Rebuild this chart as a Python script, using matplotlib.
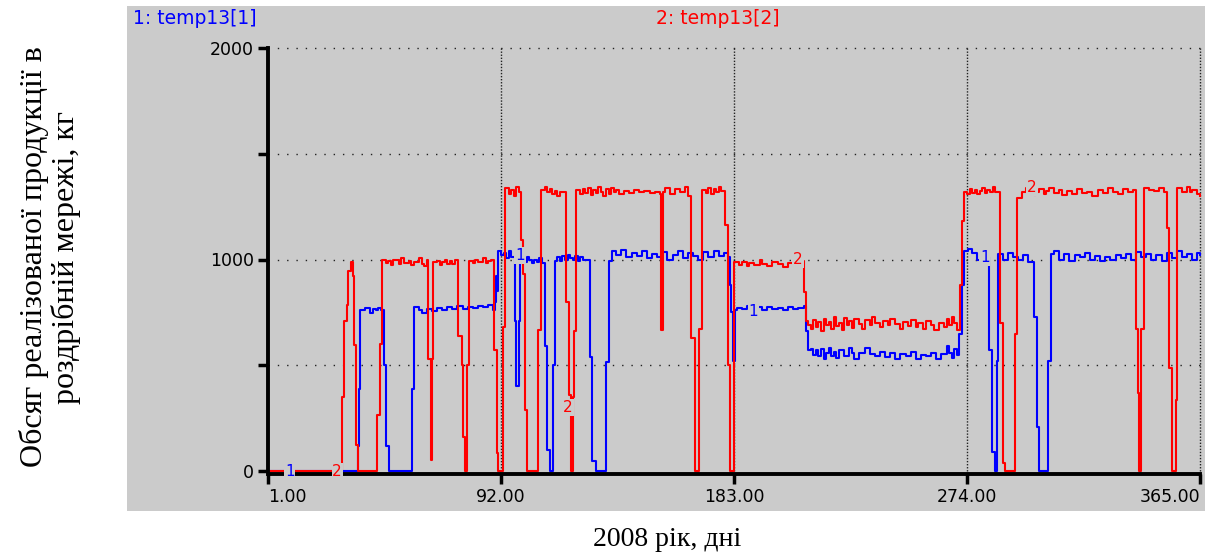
import matplotlib.pyplot as plt
from matplotlib.patches import Rectangle

# series 1 (blue): day, value breakpoints
days1 = [1, 36.0, 36.4, 37.0, 39, 41, 42, 43, 44, 45, 46.4, 47.2, 48.2, 57.1, 58.2, 60, 61, 63, 65, 67,
         69, 71, 73, 75, 77, 79, 81, 83, 85, 87, 89, 89.5, 90, 90.5, 91, 92, 93, 94, 95, 96,
         97.3, 98.0, 98.9, 99.6, 100.5, 101, 102, 103, 104, 105, 106, 107, 108, 109, 110, 111, 112.3, 113.2, 114, 115,
         116, 117, 118, 119, 120, 121, 122, 123, 124, 126.6, 127.6, 129, 133, 134, 135.5, 137, 139, 141, 143, 145,
         147, 149, 151, 153, 155, 157, 159, 161, 163, 165, 167, 169, 171, 173, 175, 177, 179, 180.6, 181.3, 182,
         182.7, 183.2, 184, 186, 188, 190, 192, 194, 196, 198, 200, 202, 204, 206, 208, 210.2, 211, 211.9, 213, 214,
         215, 216, 217, 218, 219, 220, 221, 222, 223, 224, 226, 228, 229, 230, 232, 234, 236, 238, 240, 242,
         244, 246, 248, 250, 252, 254, 256, 258, 260, 262, 264, 266, 267, 268, 269, 270, 271, 272, 273, 274.5,
         276, 278, 280, 282.7, 283.7, 285, 285.7, 286.3, 288, 290, 292, 294, 296, 298, 300.2, 301.3, 302.2, 305.8, 306.9, 308,
         310, 312, 314, 316, 318, 320, 322, 324, 326, 328, 330, 332, 334, 336, 338, 340, 342, 344, 346, 348,
         350, 352, 354, 356, 358, 360, 362, 364, 365]
temp1 = [0, 116, 390, 760, 770, 745, 765, 760, 770, 760, 500, 120, 0, 390, 775, 760, 745, 765, 755, 770,
         760, 775, 765, 780, 765, 775, 770, 780, 775, 785, 760, 800, 920, 850, 1040, 1020, 1030, 1005, 1040, 1010,
         710, 400, 710, 1000, 1000, 990, 1010, 1000, 985, 1000, 990, 1005, 985, 590, 100, 0, 500, 995, 1010, 995,
         1015, 1000, 1020, 1005, 1000, 1015, 995, 1010, 1000, 540, 45, 0, 515, 995, 1040, 1020, 1045, 1010, 1030, 1015,
         1040, 1005, 1025, 1010, 1035, 1000, 1020, 1040, 1005, 1030, 1015, 1000, 1035, 1010, 1040, 1015, 1030, 1010, 880, 750,
         520, 760, 770, 765, 780, 770, 775, 760, 775, 765, 770, 760, 775, 765, 770, 780, 660, 570, 575, 550,
         570, 545, 575, 530, 560, 580, 545, 565, 535, 570, 545, 580, 560, 530, 560, 580, 555, 545, 565, 540,
         560, 530, 555, 545, 565, 530, 550, 545, 560, 530, 555, 590, 560, 535, 575, 550, 650, 880, 1040, 1050,
         1030, 1000, 1010, 570, 90, 0, 520, 1025, 1000, 1030, 1010, 1000, 1020, 990, 730, 210, 0, 520, 1025, 1040,
         1000, 1025, 995, 1020, 1010, 1030, 1000, 1015, 995, 1010, 1000, 1020, 1005, 1025, 1000, 1035, 1010, 1025, 1000, 1020,
         995, 1030, 1005, 1040, 1010, 1025, 1000, 1030, 1020]

# series 2 (red)
days2 = [1, 30.0, 30.7, 31.7, 32.4, 33.3, 34.3, 34.7, 35.4, 36.3, 43.4, 44.7, 45.4, 47, 48, 49, 50, 52, 53, 54,
         56, 57, 58, 60, 61, 62, 63, 63.6, 64.5, 65.2, 65.6, 67, 68, 69, 70, 71, 72, 73, 74, 75.4,
         76.6, 77.3, 78, 78.6, 79.5, 81, 82, 83, 85, 86, 87, 88, 89.4, 90.3, 91, 92.8, 93.7, 95, 96, 97,
         98, 99, 100, 100.6, 101.2, 102.3, 106.4, 107.5, 109, 110, 111, 112, 113, 114, 115, 117.5, 118.4, 119.2, 120, 120.7,
         121.4, 123, 124, 125, 126, 127, 128, 129, 130, 131, 132, 133, 134, 135, 136, 137, 138, 140, 142, 144,
         146, 148, 150, 152, 154, 154.6, 155.3, 156, 158, 160, 162, 164, 165, 166.3, 167.6, 169.5, 170.5, 172, 173, 174,
         175, 176, 177, 178, 179.3, 180.6, 181.5, 183, 185, 186, 188, 189, 191, 193, 194, 196, 198, 200, 202, 204,
         206, 207, 209, 210.5, 211, 212, 213, 214, 215, 216, 217, 218, 219, 220, 221, 222, 223, 224, 225, 226,
         227, 228, 229, 230, 232, 233, 234, 236, 237, 238, 240, 241, 243, 244, 246, 248, 249, 251, 252, 254,
         255, 257, 258, 260, 261, 263, 265, 266, 267, 268, 269, 270, 271.4, 272, 273, 274, 275, 276, 277, 278,
         279, 280, 281, 282, 283, 284, 285, 287, 287.9, 289, 292.8, 293.7, 295.4, 297, 298, 299, 300, 301, 302, 304,
         305, 306, 308, 310, 311, 313, 315, 317, 319, 321, 323, 325, 327, 329, 331, 333, 335, 337, 339, 340,
         340.8, 341.3, 342, 343, 345, 347, 349, 351, 352.1, 353, 354, 355.5, 356.2, 358, 360, 361, 362, 364, 365]
temp2 = [0, 350, 710, 785, 945, 990, 920, 595, 125, 0, 265, 600, 1000, 985, 995, 975, 1000, 980, 1005, 985,
         995, 975, 990, 1005, 980, 970, 1000, 530, 50, 530, 990, 995, 975, 990, 1000, 980, 995, 980, 1000, 640,
         500, 160, 0, 500, 995, 985, 1000, 990, 1005, 985, 995, 1000, 570, 85, 0, 680, 1340, 1310, 1330, 1300,
         1345, 1320, 1090, 930, 290, 0, 665, 1330, 1345, 1320, 1335, 1310, 1325, 1300, 1320, 800, 360, 0, 350, 660,
         1330, 1310, 1335, 1315, 1340, 1305, 1330, 1315, 1345, 1320, 1300, 1335, 1310, 1340, 1320, 1330, 1310, 1325, 1315, 1330,
         1320, 1325, 1315, 1320, 1310, 665, 1320, 1340, 1310, 1335, 1320, 1345, 1300, 630, 0, 670, 1330, 1315, 1340, 1310,
         1335, 1320, 1345, 1325, 1165, 500, 0, 990, 975, 990, 970, 985, 975, 1000, 980, 970, 990, 980, 965, 985,
         990, 975, 995, 845, 710, 690, 670, 715, 680, 705, 660, 720, 690, 705, 670, 730, 685, 700, 665, 725,
         690, 710, 675, 720, 695, 670, 715, 690, 730, 700, 680, 710, 690, 720, 695, 670, 705, 685, 715, 680,
         700, 670, 710, 690, 665, 700, 680, 720, 690, 730, 700, 665, 880, 1180, 1320, 1310, 1335, 1315, 1330, 1310,
         1325, 1340, 1315, 1330, 1320, 1345, 1320, 700, 40, 0, 650, 1290, 1320, 1340, 1310, 1330, 1305, 1320, 1335, 1310,
         1325, 1340, 1315, 1330, 1305, 1325, 1310, 1335, 1315, 1320, 1300, 1330, 1315, 1340, 1320, 1310, 1335, 1320, 1330, 670,
         370, 0, 670, 1340, 1330, 1325, 1340, 1320, 1150, 485, 0, 335, 1340, 1320, 1345, 1320, 1330, 1310, 1300]

# in-line series markers "1" / "2"
mark1_x = [9.5, 99.4, 190.5, 281]
mark1_y = [0, 1020, 755, 1010]
mark2_x = [28, 118.2, 208, 299.4]
mark2_y = [0, 300, 1000, 1340]

xticks = [1, 92, 183, 274, 365]
yticks = [0, 500, 1000, 1500, 2000]
ylabels = ['0', '', '1000', '', '2000']

gray = '#cbcbcb'
fig = plt.figure(figsize=(12.05, 5.57), dpi=100)
fig.patches.append(Rectangle((127 / 1205, 1 - 511 / 557), 1 - 127 / 1205, (511 - 6) / 557,
                             transform=fig.transFigure, facecolor=gray, edgecolor='none', zorder=-5))

ax = fig.add_axes([268 / 1205, 1 - 471 / 557, (1200 - 268) / 1205, (471 - 48) / 557])
ax.set_zorder(2)
ax.set_facecolor(gray)
ax.plot(days1, temp1, color='#0000ff', lw=1.5, drawstyle='steps-post', zorder=3, clip_on=False)
ax.plot(days2, temp2, color='#ff0000', lw=1.5, drawstyle='steps-post', zorder=4, clip_on=False)

for x, y in zip(mark1_x, mark1_y):
    ax.text(x, y, '1', color='#0000ff', fontsize=11, ha='center', va='center', zorder=6,
            bbox=dict(facecolor=gray, edgecolor='none', pad=0.5))
for x, y in zip(mark2_x, mark2_y):
    ax.text(x, y, '2', color='#ff0000', fontsize=11, ha='center', va='center', zorder=6,
            bbox=dict(facecolor=gray, edgecolor='none', pad=0.5))

for s in ['top', 'right']:
    ax.spines[s].set_visible(False)
for s in ['left', 'bottom']:
    ax.spines[s].set_linewidth(2.8)
    ax.spines[s].set_zorder(5)
ax.spines['bottom'].set_position(('outward', 2))

ax.set_xlim(1, 365)
ax.set_ylim(0, 2000)
ax.set_xticks(xticks)
ax.set_xticklabels(['%.2f' % t for t in xticks])
ax.set_yticks(yticks)
ax.set_yticklabels(ylabels)
ax.tick_params(axis='both', length=7, width=2.5, labelsize=12.5, pad=3)
mt = ax.xaxis.get_major_ticks()
mt[0].label1.set_horizontalalignment('left')
mt[-1].label1.set_horizontalalignment('right')

# dotted grid
for y in yticks[1:]:
    ax.axhline(y, color='#222222', lw=1.0, ls=(0, (1, 5.7)), zorder=2, clip_on=False)
for x in xticks[1:]:
    ax.axvline(x, color='#222222', lw=1.0, ls=(0, (1, 1.2)), zorder=2, clip_on=False)

fig.text(133 / 1205, 1 - 18 / 557, '1: temp13[1]', color='#0000ff', fontsize=13.5, va='center', ha='left')
fig.text(656 / 1205, 1 - 18 / 557, '2: temp13[2]', color='#ff0000', fontsize=13.5, va='center', ha='left')

fig.text(667 / 1205, 1 - 540 / 557, '2008 рік, дні', family='Liberation Serif', fontsize=20,
         ha='center', va='center')
fig.text(50 / 1205, 1 - 257 / 557, 'Обсяг реалізованої продукції в\nроздрібній мережі, кг',
         family='Liberation Serif', fontsize=23, rotation=90, ha='center', va='center',
         linespacing=1.12)

fig.savefig('out.png', dpi=100)
